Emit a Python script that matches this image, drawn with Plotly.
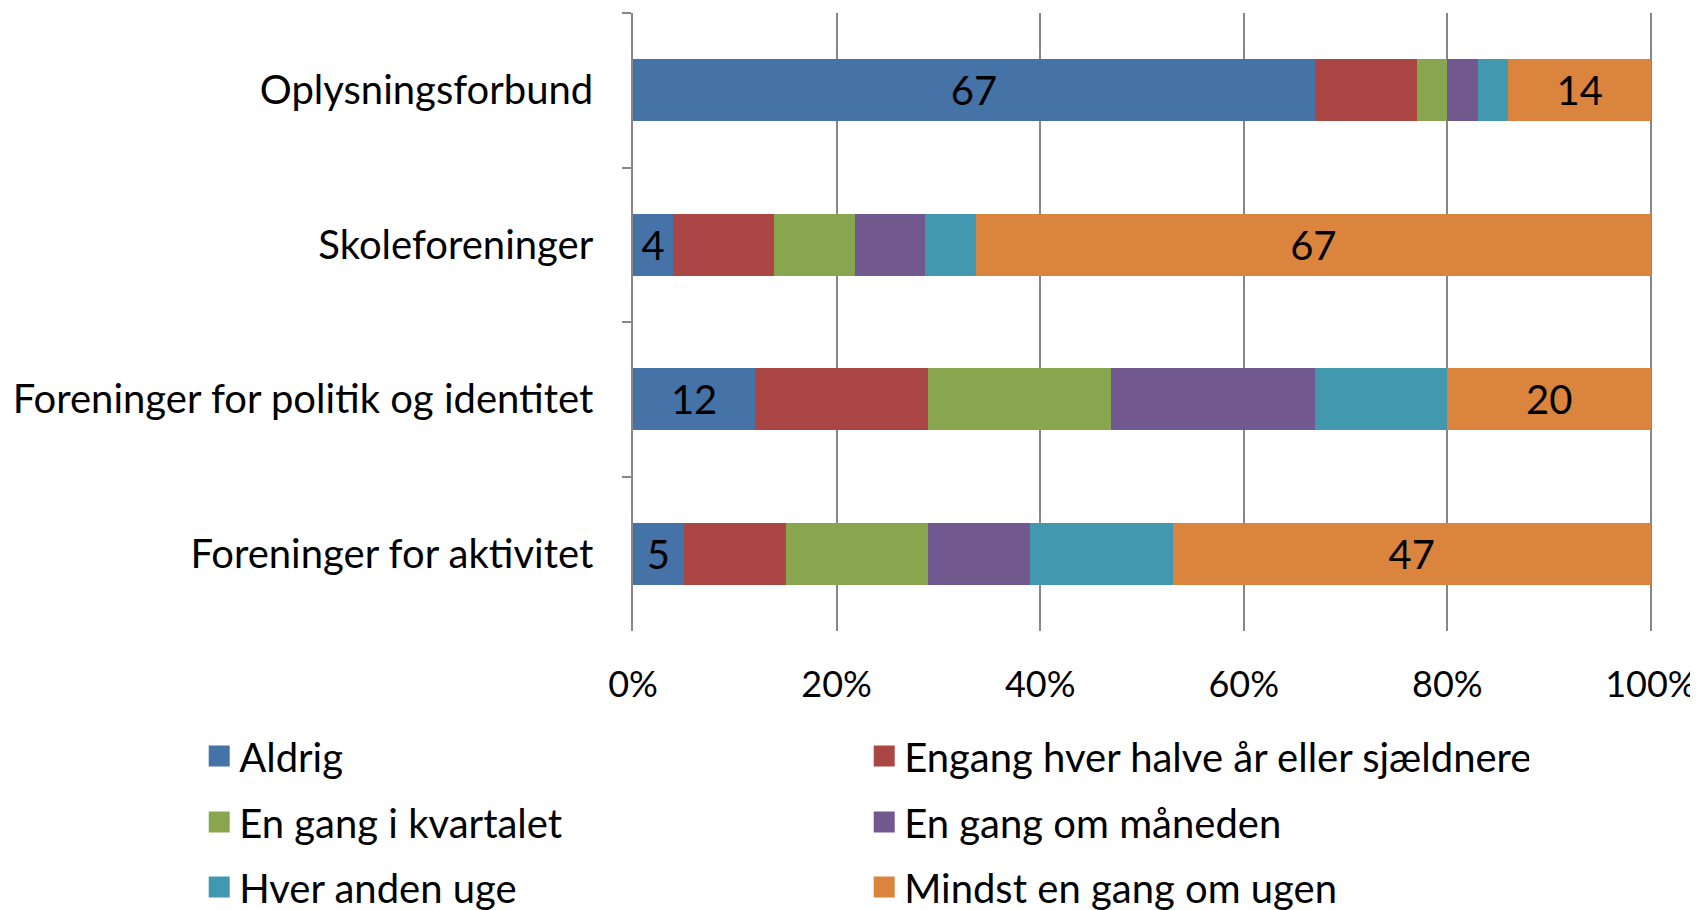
import plotly.graph_objects as go

categories = ["Oplysningsforbund", "Skoleforeninger",
              "Foreninger for politik og identitet", "Foreninger for aktivitet"]

series_names = ["Aldrig", "Engang hver halve år eller sjældnere", "En gang i kvartalet",
                "En gang om måneden", "Hver anden uge", "Mindst en gang om ugen"]

aldrig = [67, 4, 12, 5]
halvaar = [10, 10, 17, 10]
kvartal = [3, 8, 18, 14]
maaned = [3, 7, 20, 10]
anden_uge = [3, 5, 13, 14]
ugen = [14, 67, 20, 47]

values = [aldrig, halvaar, kvartal, maaned, anden_uge, ugen]
colors = ["#4572A7", "#AA4643", "#89A54E", "#71588F", "#4198AF", "#DB843D"]
labelled = [True, False, False, False, False, True]

x_ticks = [0, 20, 40, 60, 80, 100]
x_tick_labels = ["0%", "20%", "40%", "60%", "80%", "100%"]

FONT = "Lato"
FS = 40

fig = go.Figure()
for name, vals, col, lab in zip(series_names, values, colors, labelled):
    fig.add_trace(go.Bar(
        y=categories, x=vals, orientation="h", name=name,
        marker=dict(color=col, line=dict(width=0)),
        text=[str(v) for v in vals] if lab else None,
        textposition="inside" if lab else "none",
        insidetextanchor="middle",
        textangle=0,
        constraintext="none",
        textfont=dict(family=FONT, size=FS, color="black"),
        showlegend=False,
        hoverinfo="x+y+name",
    ))

legend_ids = ["legend", "legend", "legend2", "legend2", "legend3", "legend3"]
for name, col, lid in zip(series_names, colors, legend_ids):
    fig.add_trace(go.Scatter(
        x=[None], y=[None], mode="markers", name=name,
        marker=dict(symbol="square", size=22, color=col, line=dict(width=5, color=col)),
        legend=lid, showlegend=True,
    ))

leg_common = dict(orientation="h", x=-0.4257, xanchor="left", yanchor="middle",
                  traceorder="normal", entrywidth=620,
                  font=dict(family=FONT, size=FS, color="black"),
                  bgcolor="rgba(0,0,0,0)", itemclick=False, itemdoubleclick=False)

fig.update_layout(
    width=1698, height=910,
    margin=dict(l=625, r=54, t=5, b=287, autoexpand=False),
    barmode="stack", barnorm="percent", bargap=0.6,
    plot_bgcolor="white", paper_bgcolor="white",
    font=dict(family=FONT, size=FS, color="black"),
    legend=dict(y=-0.2023, **leg_common),
    legend2=dict(y=-0.309, **leg_common),
    legend3=dict(y=-0.4142, **leg_common),
    xaxis=dict(range=[0, 100.1], tickvals=x_ticks, ticktext=x_tick_labels,
               showgrid=True, gridcolor="#878787", gridwidth=1.5,
               zeroline=False, showline=False, ticks="",
               ticklabelstandoff=29, ticklabeloverflow="allow",
               tickfont=dict(family=FONT, size=36, color="black")),
    yaxis=dict(autorange="reversed", showline=True, linecolor="#878787", linewidth=1.5,
               ticks="outside", tickson="boundaries", ticklen=9, tickcolor="#878787",
               tickwidth=1.5, showgrid=False, zeroline=False,
               ticklabelstandoff=30, ticklabeloverflow="allow",
               tickfont=dict(family=FONT, size=FS, color="black")),
)

fig.write_html("out.html")
